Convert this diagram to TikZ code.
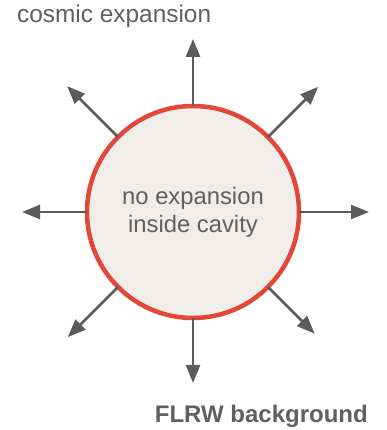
\documentclass[tikz,border=0pt]{standalone}
\usepackage{fontspec}
\setsansfont{Liberation Sans}
\usepackage{xcolor}
\definecolor{ink}{HTML}{5B5B5B}
\definecolor{label}{HTML}{606060}
\definecolor{rim}{HTML}{E2483A}
\definecolor{shell}{HTML}{F1EEE9}
\usetikzlibrary{arrows.meta,calc}

\begin{document}
\begin{tikzpicture}[x=1pt,y=1pt,
    cavity/.style={circle, draw=rim, line width=4.5pt, fill=shell, minimum size=212pt,
                   inner sep=0pt, outer sep=0pt, align=center, text=label,
                   font=\sffamily\fontsize{23.8}{28}\selectfont},
    push/.style={ink, line width=2.5pt, -{Triangle[length=18pt,width=14pt]}},
    tag/.style={text=label, inner sep=0pt, font=\sffamily\fontsize{24.4}{28}\selectfont}]
  \useasboundingbox (0,0) rectangle (386,430);
  % the cavity
  \node[cavity] (cav) at (193,218) {no expansion\\inside cavity};
  % outward arrows
  \foreach \a/\r in {0/176,45/177,90/173,135/178,180/171,225/177,270/171,315/172}{
    \coordinate (tip\a) at ($(cav.center)+(\a:\r)$);
    \draw[push] (cav.\a) -- (tip\a);
  }
  % labels
  \node[tag, anchor=base west] (top) at (17,407) {cosmic expansion};
  \node[tag, anchor=base east, font=\sffamily\bfseries\fontsize{24}{28}\selectfont] (bot) at (368,8) {FLRW background};
\end{tikzpicture}
\end{document}
